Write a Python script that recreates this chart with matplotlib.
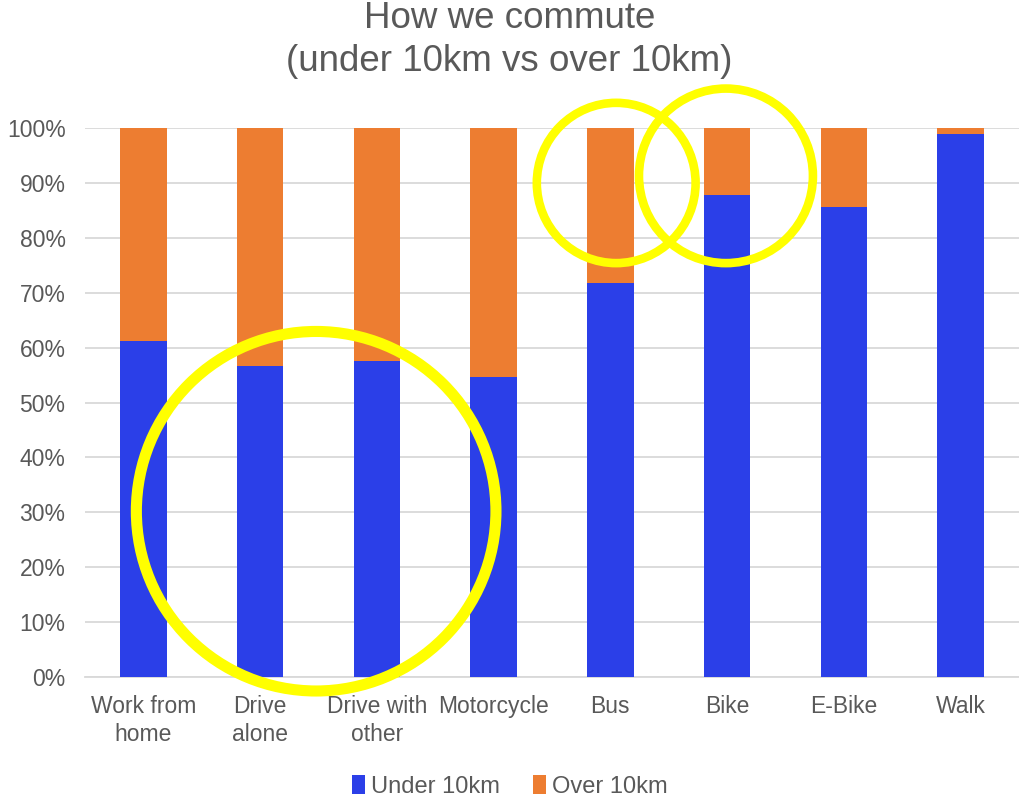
import matplotlib.pyplot as plt
import numpy as np
from matplotlib.patches import Ellipse
from matplotlib.ticker import PercentFormatter

plt.rcParams["font.family"] = ["Liberation Sans", "DejaVu Sans"]

categories = ["Work from\nhome", "Drive\nalone", "Drive with\nother", "Motorcycle",
              "Bus", "Bike", "E-Bike", "Walk"]
under_10km = [61.2, 56.7, 57.6, 54.6, 71.8, 87.8, 85.6, 99.0]
over_10km = [100 - v for v in under_10km]

# highlight circles: (x center, y center, width, height, linewidth)
highlights = [
    (1.48, 30.2, 3.08, 65.5, 8.0),
    (4.05, 90.0, 1.36, 29.2, 6.2),
    (4.99, 91.3, 1.49, 31.8, 6.2),
]

BLUE = "#2B3FE8"
ORANGE = "#ED7D31"
TEXT = "#595959"

fig = plt.figure(figsize=(10.19, 7.99), dpi=100)
ax = fig.add_axes([0.0834, 0.1527, 0.9166, 0.687])

x = np.arange(len(categories))
ax.bar(x, under_10km, width=0.4, color=BLUE, label="Under 10km", zorder=3)
ax.bar(x, over_10km, width=0.4, bottom=under_10km, color=ORANGE, label="Over 10km", zorder=3)

for cx, cy, w, h, lw in highlights:
    ax.add_patch(Ellipse((cx, cy), w, h, fill=False, edgecolor="#FFFF00",
                         linewidth=lw, clip_on=False, zorder=5))

ax.set_xlim(-0.5, 7.5)
ax.set_ylim(0, 100)
ax.set_yticks(np.arange(0, 101, 10))
ax.yaxis.set_major_formatter(PercentFormatter(decimals=0))
ax.set_xticks(x)
ax.set_xticklabels(categories, fontsize=16.5, color=TEXT, linespacing=1.25)
ax.tick_params(axis="y", labelsize=16.5, labelcolor=TEXT, length=0, pad=14)
ax.tick_params(axis="x", length=0, pad=13)
ax.grid(axis="y", color="#D9D9D9", linewidth=1.3, zorder=0)
for side in ["top", "right", "left"]:
    ax.spines[side].set_visible(False)
ax.spines["bottom"].set_color("#D9D9D9")
ax.spines["bottom"].set_linewidth(1.3)

fig.text(0.5, 0.999, "How we commute\n(under 10km vs over 10km)", ha="center", va="top",
         fontsize=26.5, color=TEXT, linespacing=1.3)

fig.legend(loc="lower center", bbox_to_anchor=(0.5, -0.025), ncol=2, frameon=False,
           fontsize=17, labelcolor=TEXT, handlelength=0.55, handleheight=0.9,
           handletextpad=0.25, columnspacing=1.4)

fig.savefig("out.png", dpi=100)
